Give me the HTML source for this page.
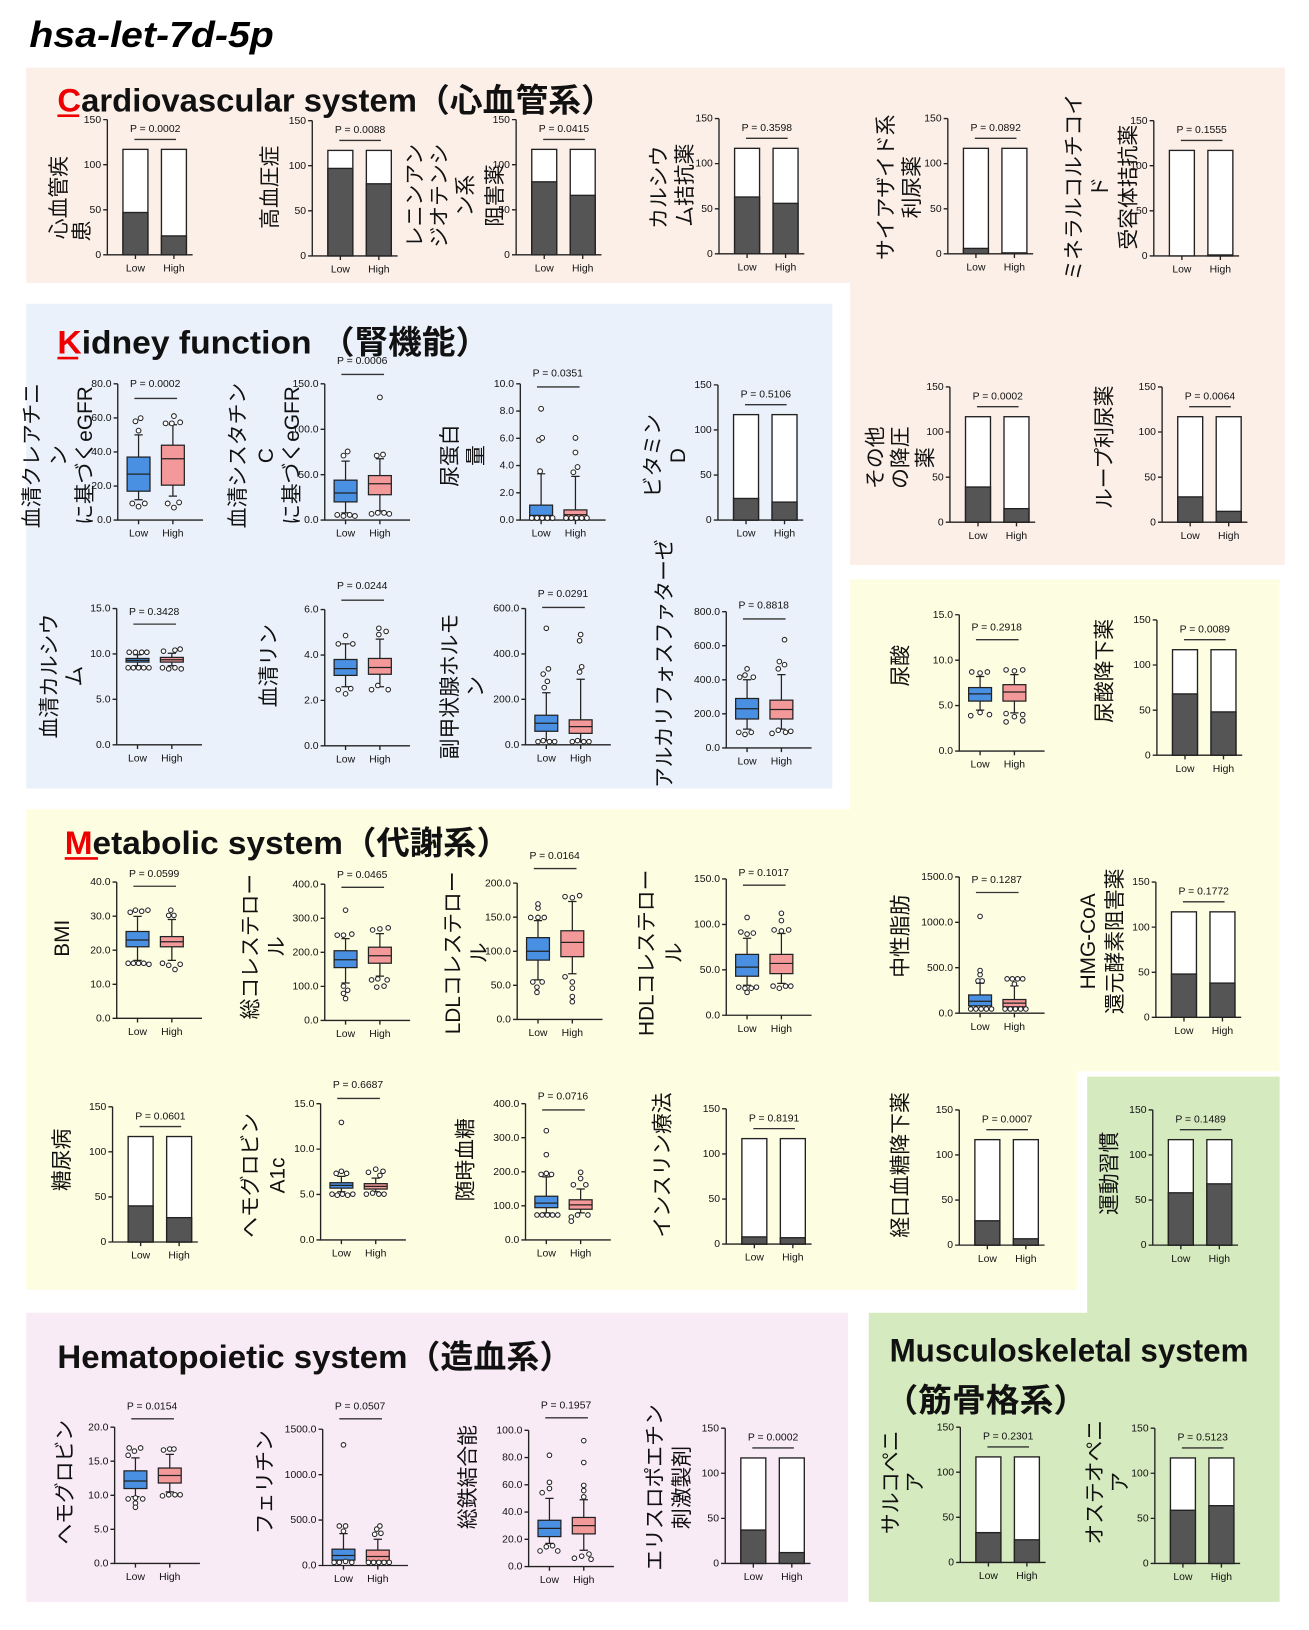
<!DOCTYPE html>
<html><head><meta charset="utf-8"><style>
html,body{margin:0;padding:0;background:#fff;}
svg{display:block;}
.ax{stroke:#222;stroke-width:1.3;fill:none}
.t{font-family:"Liberation Sans",Arial,sans-serif;font-size:10px;fill:#111}
.e{text-anchor:end}
.m{text-anchor:middle}
.d{fill:#555;stroke:#222;stroke-width:1.3}
.pl{stroke:#333;stroke-width:1.3}
.bl{fill:#4a90e2;stroke:#222;stroke-width:1.2}
.pk{fill:#f4999a;stroke:#222;stroke-width:1.2}
.w{stroke:#222;stroke-width:1.2;fill:none}
.o circle{fill:#fff;stroke:#222;stroke-width:1}
.j{font-family:"Liberation Sans","Noto Sans CJK JP",sans-serif;font-size:20px;fill:#111;text-anchor:middle;dominant-baseline:central}
.h{font-family:"Liberation Sans","Noto Sans CJK JP",sans-serif;font-weight:bold;font-size:31px;fill:#111}
.r{fill:#e00}
</style></head><body>
<svg width="1309" height="1630" viewBox="0 0 1258 1567" xmlns="http://www.w3.org/2000/svg">
<defs>
<g id="bf">
<path class="ax" d="M0,-130V0H82M-4,0H0M-4,-43.3H0M-4,-86.7H0M-4,-130H0M27,0v4M64,0v4"/>
<text class="t e" x="-6" y="3">0</text><text class="t e" x="-6" y="-40.3">50</text><text class="t e" x="-6" y="-83.7">100</text><text class="t e" x="-6" y="-127">150</text>
<rect x="15" y="-101.4" width="24" height="101.4" fill="#fff" stroke="#222" stroke-width="1.3"/>
<rect x="52" y="-101.4" width="24" height="101.4" fill="#fff" stroke="#222" stroke-width="1.3"/>
<text class="t m" x="27" y="16">Low</text><text class="t m" x="64" y="16">High</text>
<path class="pl" d="M26,-111H66"/>
</g>
<path id="bx" class="ax" d="M0,-131V0H82M20,0v4M53,0v4"/>
<g id="lh"><text class="t m" x="20" y="16">Low</text><text class="t m" x="53" y="16">High</text></g>
</defs>

<polygon points="25,65 1235,65 1235,543 817,543 817,272 25,272" fill="#fcefe8"/>
<rect x="25" y="292" width="775" height="466" fill="#ebf1fa"/>
<polygon points="25,778 817,778 817,557 1230,557 1230,1030 1035,1030 1035,1240 25,1240" fill="#fdfde2"/>
<polygon points="1045,1035 1230,1035 1230,1540 835,1540 835,1262 1045,1262" fill="#d5eabe"/>
<rect x="25" y="1262" width="790" height="278" fill="#f9ebf5"/>

<text x="28" y="45" font-family="Liberation Sans,sans-serif" font-weight="bold" font-style="italic" font-size="35" textLength="235" lengthAdjust="spacingAndGlyphs">hsa-let-7d-5p</text>
<text class="h" x="55" y="107" textLength="535" lengthAdjust="spacingAndGlyphs"><tspan class="r">C</tspan>ardiovascular system（心血管系）</text>
<rect x="55" y="110" width="21" height="2.5" fill="#e00"/>
<text class="h" x="55" y="340" textLength="415" lengthAdjust="spacingAndGlyphs"><tspan class="r">K</tspan>idney function （腎機能）</text>
<rect x="55" y="343" width="20" height="2.5" fill="#e00"/>
<text class="h" x="62" y="821" textLength="428" lengthAdjust="spacingAndGlyphs"><tspan class="r">M</tspan>etabolic system（代謝系）</text>
<rect x="62" y="824" width="32" height="2.5" fill="#e00"/>
<text class="h" x="55" y="1315" textLength="495" lengthAdjust="spacingAndGlyphs">Hematopoietic system（造血系）</text>
<text class="h" x="855" y="1309" textLength="345" lengthAdjust="spacingAndGlyphs">Musculoskeletal system</text>
<text class="h" x="850" y="1357" textLength="195" lengthAdjust="spacingAndGlyphs">（筋骨格系）</text>

<g class="j">
<text transform="translate(57,190) rotate(-90)">心血管疾</text>
<text transform="translate(79,222) rotate(-90)">患</text>
<text transform="translate(260,180) rotate(-90)">高血圧症</text>
<text transform="translate(399,188) rotate(-90)">レニンアン</text>
<text transform="translate(423,188) rotate(-90)">ジオテンシ</text>
<text transform="translate(448,188) rotate(-90)">ン系</text>
<text transform="translate(476,188) rotate(-90)">阻害薬</text>
<text transform="translate(634,180) rotate(-90)">カルシウ</text>
<text transform="translate(659,178) rotate(-90)">ム拮抗薬</text>
<text transform="translate(852,180) rotate(-90)">サイアザイド系</text>
<text transform="translate(877,180) rotate(-90)">利尿薬</text>
<text transform="translate(1033,180) rotate(-90)">ミネラルコルチコイ</text>
<text transform="translate(1058,180) rotate(-90)">ド</text>
<text transform="translate(1085,180) rotate(-90)">受容体拮抗薬</text>
<text transform="translate(842,440) rotate(-90)">その他</text>
<text transform="translate(866,440) rotate(-90)">の降圧</text>
<text transform="translate(890,440) rotate(-90)">薬</text>
<text transform="translate(1062,430) rotate(-90)">ループ利尿薬</text>
<text transform="translate(31,438) rotate(-90)">血清クレアチニ</text>
<text transform="translate(57,438) rotate(-90)">ン</text>
<text transform="translate(82,438) rotate(-90)">に基づくeGFR</text>
<text transform="translate(229,438) rotate(-90)">血清シスタチン</text>
<text transform="translate(256,438) rotate(-90)">C</text>
<text transform="translate(281,438) rotate(-90)">に基づくeGFR</text>
<text transform="translate(433,438) rotate(-90)">尿蛋白</text>
<text transform="translate(458,438) rotate(-90)">量</text>
<text transform="translate(628,438) rotate(-90)">ビタミン</text>
<text transform="translate(652,438) rotate(-90)">D</text>
<text transform="translate(48,650) rotate(-90)">血清カルシウ</text>
<text transform="translate(72,650) rotate(-90)">ム</text>
<text transform="translate(259,640) rotate(-90)">血清リン</text>
<text transform="translate(433,660) rotate(-90)">副甲状腺ホルモ</text>
<text transform="translate(458,660) rotate(-90)">ン</text>
<text transform="translate(639,638) rotate(-90)">アルカリフォスファターゼ</text>
<text transform="translate(866,640) rotate(-90)">尿酸</text>
<text transform="translate(1062,645) rotate(-90)">尿酸降下薬</text>
<text transform="translate(60,902) rotate(-90)">BMI</text>
<text transform="translate(241,910) rotate(-90)">総コレステロー</text>
<text transform="translate(266,910) rotate(-90)">ル</text>
<text transform="translate(436,916) rotate(-90)">LDLコレステロー</text>
<text transform="translate(461,916) rotate(-90)">ル</text>
<text transform="translate(622,916) rotate(-90)">HDLコレステロー</text>
<text transform="translate(648,916) rotate(-90)">ル</text>
<text transform="translate(866,900) rotate(-90)">中性脂肪</text>
<text transform="translate(1046,905) rotate(-90)">HMG-CoA</text>
<text transform="translate(1072,905) rotate(-90)">還元酵素阻害薬</text>
<text transform="translate(60,1115) rotate(-90)">糖尿病</text>
<text transform="translate(241,1130) rotate(-90)">ヘモグロビン</text>
<text transform="translate(267,1130) rotate(-90)">A1c</text>
<text transform="translate(448,1115) rotate(-90)">随時血糖</text>
<text transform="translate(637,1120) rotate(-90)">インスリン療法</text>
<text transform="translate(866,1120) rotate(-90)">経口血糖降下薬</text>
<text transform="translate(1067,1128) rotate(-90)">運動習慣</text>
<text transform="translate(63,1425) rotate(-90)">ヘモグロビン</text>
<text transform="translate(255,1425) rotate(-90)">フェリチン</text>
<text transform="translate(450,1420) rotate(-90)">総鉄結合能</text>
<text transform="translate(630,1430) rotate(-90)">エリスロポエチン</text>
<text transform="translate(656,1430) rotate(-90)">刺激製剤</text>
<text transform="translate(857,1425) rotate(-90)">サルコペニ</text>
<text transform="translate(880,1425) rotate(-90)">ア</text>
<text transform="translate(1053,1425) rotate(-90)">オステオペニ</text>
<text transform="translate(1077,1425) rotate(-90)">ア</text>
</g>

<g transform="translate(103,245)"><use href="#bf"/><rect class="d" x="15" y="-40.7" width="24" height="40.7"/><rect class="d" x="52" y="-18.2" width="24" height="18.2"/><text class="t m" x="46" y="-118">P = 0.0002</text></g>
<g transform="translate(300,246)"><use href="#bf"/><rect class="d" x="15" y="-84.1" width="24" height="84.1"/><rect class="d" x="52" y="-69.3" width="24" height="69.3"/><text class="t m" x="46" y="-118">P = 0.0088</text></g>
<g transform="translate(496,245)"><use href="#bf"/><rect class="d" x="15" y="-70.2" width="24" height="70.2"/><rect class="d" x="52" y="-57.2" width="24" height="57.2"/><text class="t m" x="46" y="-118">P = 0.0415</text></g>
<g transform="translate(691,244)"><use href="#bf"/><rect class="d" x="15" y="-54.6" width="24" height="54.6"/><rect class="d" x="52" y="-48.5" width="24" height="48.5"/><text class="t m" x="46" y="-118">P = 0.3598</text></g>
<g transform="translate(911,244)"><use href="#bf"/><rect class="d" x="15" y="-5.2" width="24" height="5.2"/><rect class="d" x="52" y="-0.9" width="24" height="0.9"/><text class="t m" x="46" y="-118">P = 0.0892</text></g>
<g transform="translate(1109,246)"><use href="#bf"/><rect class="d" x="52" y="-0.9" width="24" height="0.9"/><text class="t m" x="46" y="-118">P = 0.1555</text></g>
<g transform="translate(913,502)"><use href="#bf"/><rect class="d" x="15" y="-33.8" width="24" height="33.8"/><rect class="d" x="52" y="-13" width="24" height="13"/><text class="t m" x="46" y="-118">P = 0.0002</text></g>
<g transform="translate(1117,502)"><use href="#bf"/><rect class="d" x="15" y="-24.3" width="24" height="24.3"/><rect class="d" x="52" y="-10.4" width="24" height="10.4"/><text class="t m" x="46" y="-118">P = 0.0064</text></g>
<g transform="translate(690,500)"><use href="#bf"/><rect class="d" x="15" y="-20.8" width="24" height="20.8"/><rect class="d" x="52" y="-17.3" width="24" height="17.3"/><text class="t m" x="46" y="-118">P = 0.5106</text></g>
<g transform="translate(1112,726)"><use href="#bf"/><rect class="d" x="15" y="-58.9" width="24" height="58.9"/><rect class="d" x="52" y="-41.6" width="24" height="41.6"/><text class="t m" x="46" y="-118">P = 0.0089</text></g>
<g transform="translate(1111,978)"><use href="#bf"/><rect class="d" x="15" y="-41.6" width="24" height="41.6"/><rect class="d" x="52" y="-32.9" width="24" height="32.9"/><text class="t m" x="46" y="-118">P = 0.1772</text></g>
<g transform="translate(108,1194)"><use href="#bf"/><rect class="d" x="15" y="-34.7" width="24" height="34.7"/><rect class="d" x="52" y="-23.4" width="24" height="23.4"/><text class="t m" x="46" y="-118">P = 0.0601</text></g>
<g transform="translate(698,1196)"><use href="#bf"/><rect class="d" x="15" y="-6.9" width="24" height="6.9"/><rect class="d" x="52" y="-6.1" width="24" height="6.1"/><text class="t m" x="46" y="-118">P = 0.8191</text></g>
<g transform="translate(922,1197)"><use href="#bf"/><rect class="d" x="15" y="-23.4" width="24" height="23.4"/><rect class="d" x="52" y="-6.1" width="24" height="6.1"/><text class="t m" x="46" y="-118">P = 0.0007</text></g>
<g transform="translate(1108,1197)"><use href="#bf"/><rect class="d" x="15" y="-50.3" width="24" height="50.3"/><rect class="d" x="52" y="-58.9" width="24" height="58.9"/><text class="t m" x="46" y="-118">P = 0.1489</text></g>
<g transform="translate(697,1503)"><use href="#bf"/><rect class="d" x="15" y="-32.1" width="24" height="32.1"/><rect class="d" x="52" y="-10.4" width="24" height="10.4"/><text class="t m" x="46" y="-118">P = 0.0002</text></g>
<g transform="translate(923,1502)"><use href="#bf"/><rect class="d" x="15" y="-28.6" width="24" height="28.6"/><rect class="d" x="52" y="-21.7" width="24" height="21.7"/><text class="t m" x="46" y="-118">P = 0.2301</text></g>
<g transform="translate(1110,1503)"><use href="#bf"/><rect class="d" x="15" y="-51.1" width="24" height="51.1"/><rect class="d" x="52" y="-55.5" width="24" height="55.5"/><text class="t m" x="46" y="-118">P = 0.5123</text></g>

<g transform="translate(113,500)"><use href="#bx"/><use href="#lh"/>
<path class="ax" d="M-4,0H0M-4,-32.75H0M-4,-65.5H0M-4,-98.25H0M-4,-131H0"/>
<text class="t e" x="-6" y="3">0.0</text><text class="t e" x="-6" y="-29.7">20.0</text><text class="t e" x="-6" y="-62.5">40.0</text><text class="t e" x="-6" y="-95.2">60.0</text><text class="t e" x="-6" y="-128">80.0</text>
<path class="w" d="M20,-19.6V-27.8M20,-60.6V-81.9M16,-19.6h8M16,-81.9h8"/><rect class="bl" x="9" y="-60.6" width="22" height="32.8"/><path class="w" d="M9,-44.2h22"/>
<path class="w" d="M53,-23V-33.6M53,-72V-91.7M49,-23h8M49,-91.7h8"/><rect class="pk" x="42" y="-72" width="22" height="38.4"/><path class="w" d="M42,-59h22"/>
<g class="o"><circle cx="14" cy="-16" r="2.3"/><circle cx="20" cy="-13" r="2.3"/><circle cx="26" cy="-16" r="2.3"/><circle cx="20" cy="-86" r="2.3"/><circle cx="17" cy="-95" r="2.3"/><circle cx="22" cy="-98" r="2.3"/><circle cx="48" cy="-16" r="2.3"/><circle cx="54" cy="-12" r="2.3"/><circle cx="59" cy="-17" r="2.3"/><circle cx="46" cy="-93" r="2.3"/><circle cx="52" cy="-93" r="2.3"/><circle cx="60" cy="-94" r="2.3"/><circle cx="54" cy="-100" r="2.3"/></g>
<text class="t m" x="36" y="-128">P = 0.0002</text><path class="pl" d="M16,-117H57"/></g>
<g transform="translate(312,500)"><use href="#bx"/><use href="#lh"/>
<path class="ax" d="M-4,0H0M-4,-43.7H0M-4,-87.3H0M-4,-131H0"/>
<text class="t e" x="-6" y="3">0.0</text><text class="t e" x="-6" y="-40.7">50.0</text><text class="t e" x="-6" y="-84.3">100.0</text><text class="t e" x="-6" y="-128">150.0</text>
<path class="w" d="M20,-7V-17.5M20,-38.4V-56.7M16,-7h8M16,-56.7h8"/><rect class="bl" x="9" y="-38.4" width="22" height="20.9"/><path class="w" d="M9,-26h22"/>
<path class="w" d="M53,-8.7V-24.4M53,-42.8V-59M49,-8.7h8M49,-59h8"/><rect class="pk" x="42" y="-42.8" width="22" height="18.4"/><path class="w" d="M42,-35h22"/>
<g class="o"><circle cx="12" cy="-5" r="2.3"/><circle cx="18" cy="-4" r="2.3"/><circle cx="24" cy="-5" r="2.3"/><circle cx="29" cy="-4" r="2.3"/><circle cx="18" cy="-62" r="2.3"/><circle cx="22" cy="-66" r="2.3"/><circle cx="45" cy="-6" r="2.3"/><circle cx="51" cy="-7" r="2.3"/><circle cx="57" cy="-7" r="2.3"/><circle cx="62" cy="-6" r="2.3"/><circle cx="50" cy="-62" r="2.3"/><circle cx="56" cy="-63" r="2.3"/><circle cx="53" cy="-118" r="2.3"/></g>
<text class="t m" x="36" y="-150">P = 0.0006</text><path class="pl" d="M16,-140H57"/></g>
<g transform="translate(500,500)"><use href="#bx"/><use href="#lh"/>
<path class="ax" d="M-4,0H0M-4,-26.2H0M-4,-52.4H0M-4,-78.6H0M-4,-104.8H0M-4,-131H0"/>
<text class="t e" x="-6" y="3">0.0</text><text class="t e" x="-6" y="-23.2">2.0</text><text class="t e" x="-6" y="-49.4">4.0</text><text class="t e" x="-6" y="-75.6">6.0</text><text class="t e" x="-6" y="-101.8">8.0</text><text class="t e" x="-6" y="-128">10.0</text>
<path class="w" d="M20,-14.4V-44.5M16,-44.5h8"/><rect class="bl" x="9" y="-14.4" width="22" height="13.1"/><path class="w" d="M9,-4.6h22"/>
<path class="w" d="M53,-9.8V-42M49,-42h8"/><rect class="pk" x="42" y="-9.8" width="22" height="8.5"/><path class="w" d="M42,-5.2h22"/>
<g class="o"><circle cx="11" cy="-2" r="2.3"/><circle cx="16" cy="-2" r="2.3"/><circle cx="21" cy="-2" r="2.3"/><circle cx="26" cy="-2" r="2.3"/><circle cx="31" cy="-2" r="2.3"/><circle cx="19" cy="-47" r="2.3"/><circle cx="18" cy="-77" r="2.3"/><circle cx="21" cy="-79" r="2.3"/><circle cx="20" cy="-107" r="2.3"/><circle cx="44" cy="-2" r="2.3"/><circle cx="49" cy="-2" r="2.3"/><circle cx="54" cy="-2" r="2.3"/><circle cx="59" cy="-2" r="2.3"/><circle cx="64" cy="-2" r="2.3"/><circle cx="51" cy="-46" r="2.3"/><circle cx="55" cy="-51" r="2.3"/><circle cx="53" cy="-65" r="2.3"/><circle cx="53" cy="-79" r="2.3"/></g>
<text class="t m" x="36" y="-138">P = 0.0351</text><path class="pl" d="M16,-128H57"/></g>
<g transform="translate(112,716)"><use href="#bx"/><use href="#lh"/>
<path class="ax" d="M-4,0H0M-4,-43.7H0M-4,-87.3H0M-4,-131H0"/>
<text class="t e" x="-6" y="3">0.0</text><text class="t e" x="-6" y="-40.7">5.0</text><text class="t e" x="-6" y="-84.3">10.0</text><text class="t e" x="-6" y="-128">15.0</text>
<path class="w" d="M20,-76V-79.5M20,-83V-86.5M16,-76h8M16,-86.5h8"/><rect class="bl" x="9" y="-83" width="22" height="3.5"/><path class="w" d="M9,-81.2h22"/>
<path class="w" d="M53,-76V-79.5M53,-84V-88M49,-76h8M49,-88h8"/><rect class="pk" x="42" y="-84" width="22" height="4.5"/><path class="w" d="M42,-81.7h22"/>
<g class="o"><circle cx="11" cy="-74" r="2.2"/><circle cx="16" cy="-74" r="2.2"/><circle cx="21" cy="-74" r="2.2"/><circle cx="26" cy="-74" r="2.2"/><circle cx="31" cy="-74" r="2.2"/><circle cx="12" cy="-89" r="2.2"/><circle cx="18" cy="-89" r="2.2"/><circle cx="24" cy="-89" r="2.2"/><circle cx="29" cy="-89" r="2.2"/><circle cx="44" cy="-74" r="2.2"/><circle cx="50" cy="-73" r="2.2"/><circle cx="56" cy="-74" r="2.2"/><circle cx="62" cy="-73" r="2.2"/><circle cx="45" cy="-90" r="2.2"/><circle cx="56" cy="-91" r="2.2"/><circle cx="61" cy="-92" r="2.2"/></g>
<text class="t m" x="36" y="-125">P = 0.3428</text><path class="pl" d="M16,-116H57"/></g>
<g transform="translate(312,717)"><use href="#bx"/><use href="#lh"/>
<path class="ax" d="M-4,0H0M-4,-43.7H0M-4,-87.3H0M-4,-131H0"/>
<text class="t e" x="-6" y="3">0.0</text><text class="t e" x="-6" y="-40.7">2.0</text><text class="t e" x="-6" y="-84.3">4.0</text><text class="t e" x="-6" y="-128">6.0</text>
<path class="w" d="M20,-56.8V-67.7M20,-83V-98M16,-56.8h8M16,-98h8"/><rect class="bl" x="9" y="-83" width="22" height="15.3"/><path class="w" d="M9,-74.2h22"/>
<path class="w" d="M53,-56.8V-68.8M53,-84V-102.6M49,-56.8h8M49,-102.6h8"/><rect class="pk" x="42" y="-84" width="22" height="15.2"/><path class="w" d="M42,-75.3h22"/>
<g class="o"><circle cx="13" cy="-54" r="2.2"/><circle cx="20" cy="-50" r="2.2"/><circle cx="25" cy="-55" r="2.2"/><circle cx="13" cy="-98" r="2.2"/><circle cx="20" cy="-106" r="2.2"/><circle cx="27" cy="-98" r="2.2"/><circle cx="45" cy="-54" r="2.2"/><circle cx="51" cy="-58" r="2.2"/><circle cx="61" cy="-54" r="2.2"/><circle cx="52" cy="-107" r="2.2"/><circle cx="59" cy="-110" r="2.2"/><circle cx="52" cy="-113" r="2.2"/></g>
<text class="t m" x="36" y="-151">P = 0.0244</text><path class="pl" d="M16,-140H57"/></g>
<g transform="translate(505,716)"><use href="#bx"/><use href="#lh"/>
<path class="ax" d="M-4,0H0M-4,-43.7H0M-4,-87.3H0M-4,-131H0"/>
<text class="t e" x="-6" y="3">0.0</text><text class="t e" x="-6" y="-40.7">200.0</text><text class="t e" x="-6" y="-84.3">400.0</text><text class="t e" x="-6" y="-128">600.0</text>
<path class="w" d="M20,-3.3V-13M20,-28.4V-50M16,-50h8"/><rect class="bl" x="9" y="-28.4" width="22" height="15.4"/><path class="w" d="M9,-20.7h22"/>
<path class="w" d="M53,-2V-11M53,-24V-63M49,-63h8"/><rect class="pk" x="42" y="-24" width="22" height="13"/><path class="w" d="M42,-17.5h22"/>
<g class="o"><circle cx="12" cy="-3" r="2.2"/><circle cx="17" cy="-4" r="2.2"/><circle cx="23" cy="-3" r="2.2"/><circle cx="28" cy="-3" r="2.2"/><circle cx="18" cy="-55" r="2.2"/><circle cx="21" cy="-61" r="2.2"/><circle cx="17" cy="-68" r="2.2"/><circle cx="22" cy="-73" r="2.2"/><circle cx="20" cy="-112" r="2.2"/><circle cx="45" cy="-3" r="2.2"/><circle cx="50" cy="-4" r="2.2"/><circle cx="56" cy="-3" r="2.2"/><circle cx="61" cy="-3" r="2.2"/><circle cx="52" cy="-70" r="2.2"/><circle cx="54" cy="-75" r="2.2"/><circle cx="52" cy="-100" r="2.2"/><circle cx="53" cy="-106" r="2.2"/></g>
<text class="t m" x="36" y="-142">P = 0.0291</text><path class="pl" d="M16,-132H57"/></g>
<g transform="translate(698,719)"><use href="#bx"/><use href="#lh"/>
<path class="ax" d="M-4,0H0M-4,-32.75H0M-4,-65.5H0M-4,-98.25H0M-4,-131H0"/>
<text class="t e" x="-6" y="3">0.0</text><text class="t e" x="-6" y="-29.7">200.0</text><text class="t e" x="-6" y="-62.5">400.0</text><text class="t e" x="-6" y="-95.2">600.0</text><text class="t e" x="-6" y="-128">800.0</text>
<path class="w" d="M20,-18V-27.8M20,-47.5V-65.5M16,-18h8M16,-65.5h8"/><rect class="bl" x="9" y="-47.5" width="22" height="19.7"/><path class="w" d="M9,-37.7h22"/>
<path class="w" d="M53,-18V-27.8M53,-45.9V-70.4M49,-18h8M49,-70.4h8"/><rect class="pk" x="42" y="-45.9" width="22" height="18.1"/><path class="w" d="M42,-36.9h22"/>
<g class="o"><circle cx="12" cy="-15" r="2.2"/><circle cx="18" cy="-13" r="2.2"/><circle cx="24" cy="-15" r="2.2"/><circle cx="13" cy="-68" r="2.2"/><circle cx="18" cy="-70" r="2.2"/><circle cx="26" cy="-68" r="2.2"/><circle cx="20" cy="-76" r="2.2"/><circle cx="44" cy="-14" r="2.2"/><circle cx="50" cy="-17" r="2.2"/><circle cx="57" cy="-15" r="2.2"/><circle cx="62" cy="-16" r="2.2"/><circle cx="50" cy="-76" r="2.2"/><circle cx="56" cy="-80" r="2.2"/><circle cx="51" cy="-83" r="2.2"/><circle cx="56" cy="-104" r="2.2"/></g>
<text class="t m" x="36" y="-134">P = 0.8818</text><path class="pl" d="M16,-124H57"/></g>
<g transform="translate(922,722)"><use href="#bx"/><use href="#lh"/>
<path class="ax" d="M-4,0H0M-4,-43.7H0M-4,-87.3H0M-4,-131H0"/>
<text class="t e" x="-6" y="3">0.0</text><text class="t e" x="-6" y="-40.7">5.0</text><text class="t e" x="-6" y="-84.3">10.0</text><text class="t e" x="-6" y="-128">15.0</text>
<path class="w" d="M20,-39.3V-48M20,-61V-71.6M16,-39.3h8M16,-71.6h8"/><rect class="bl" x="9" y="-61" width="22" height="13"/><path class="w" d="M9,-55h22"/>
<path class="w" d="M53,-36.7V-48M53,-63.8V-73.4M49,-36.7h8M49,-73.4h8"/><rect class="pk" x="42" y="-63.8" width="22" height="15.8"/><path class="w" d="M42,-56.8h22"/>
<g class="o"><circle cx="11" cy="-34" r="2.2"/><circle cx="20" cy="-37" r="2.2"/><circle cx="29" cy="-35" r="2.2"/><circle cx="12" cy="-76" r="2.2"/><circle cx="20" cy="-75" r="2.2"/><circle cx="27" cy="-76" r="2.2"/><circle cx="45" cy="-36" r="2.2"/><circle cx="53" cy="-33" r="2.2"/><circle cx="61" cy="-35" r="2.2"/><circle cx="45" cy="-28" r="2.2"/><circle cx="61" cy="-29" r="2.2"/><circle cx="45" cy="-78" r="2.2"/><circle cx="53" cy="-77" r="2.2"/><circle cx="61" cy="-78" r="2.2"/></g>
<text class="t m" x="36" y="-116">P = 0.2918</text><path class="pl" d="M16,-107H57"/></g>
<g transform="translate(112,979)"><use href="#bx"/><use href="#lh"/>
<path class="ax" d="M-4,0H0M-4,-32.75H0M-4,-65.5H0M-4,-98.25H0M-4,-131H0"/>
<text class="t e" x="-6" y="3">0.0</text><text class="t e" x="-6" y="-29.7">10.0</text><text class="t e" x="-6" y="-62.5">20.0</text><text class="t e" x="-6" y="-95.2">30.0</text><text class="t e" x="-6" y="-128">40.0</text>
<path class="w" d="M20,-55.7V-68.8M20,-83.5V-98M16,-55.7h8M16,-98h8"/><rect class="bl" x="9" y="-83.5" width="22" height="14.7"/><path class="w" d="M9,-75.3h22"/>
<path class="w" d="M53,-55.7V-68.8M53,-78.6V-95M49,-55.7h8M49,-95h8"/><rect class="pk" x="42" y="-78.6" width="22" height="9.8"/><path class="w" d="M42,-73.7h22"/>
<g class="o"><circle cx="11" cy="-53" r="2.2"/><circle cx="16" cy="-53" r="2.2"/><circle cx="21" cy="-53" r="2.2"/><circle cx="26" cy="-53" r="2.2"/><circle cx="31" cy="-52" r="2.2"/><circle cx="13" cy="-102" r="2.2"/><circle cx="18" cy="-104" r="2.2"/><circle cx="24" cy="-103" r="2.2"/><circle cx="30" cy="-104" r="2.2"/><circle cx="44" cy="-53" r="2.2"/><circle cx="50" cy="-51" r="2.2"/><circle cx="56" cy="-47" r="2.2"/><circle cx="61" cy="-52" r="2.2"/><circle cx="50" cy="-99" r="2.2"/><circle cx="55" cy="-99" r="2.2"/><circle cx="52" cy="-104" r="2.2"/></g>
<text class="t m" x="36" y="-136">P = 0.0599</text><path class="pl" d="M16,-127H57"/></g>
<g transform="translate(312,981)"><use href="#bx"/><use href="#lh"/>
<path class="ax" d="M-4,0H0M-4,-32.75H0M-4,-65.5H0M-4,-98.25H0M-4,-131H0"/>
<text class="t e" x="-6" y="3">0.0</text><text class="t e" x="-6" y="-29.7">100.0</text><text class="t e" x="-6" y="-62.5">200.0</text><text class="t e" x="-6" y="-95.2">300.0</text><text class="t e" x="-6" y="-128">400.0</text>
<path class="w" d="M20,-36V-50.8M20,-67V-78.6M16,-36h8M16,-78.6h8"/><rect class="bl" x="9" y="-67" width="22" height="16.2"/><path class="w" d="M9,-58.3h22"/>
<path class="w" d="M53,-42.6V-55M53,-70.4V-83.5M49,-42.6h8M49,-83.5h8"/><rect class="pk" x="42" y="-70.4" width="22" height="15.4"/><path class="w" d="M42,-62.2h22"/>
<g class="o"><circle cx="18" cy="-33" r="2.2"/><circle cx="22" cy="-29" r="2.2"/><circle cx="18" cy="-26" r="2.2"/><circle cx="20" cy="-21" r="2.2"/><circle cx="12" cy="-82" r="2.2"/><circle cx="18" cy="-82" r="2.2"/><circle cx="26" cy="-83" r="2.2"/><circle cx="20" cy="-106" r="2.2"/><circle cx="45" cy="-39" r="2.2"/><circle cx="51" cy="-40" r="2.2"/><circle cx="60" cy="-39" r="2.2"/><circle cx="50" cy="-32" r="2.2"/><circle cx="57" cy="-33" r="2.2"/><circle cx="46" cy="-87" r="2.2"/><circle cx="53" cy="-88" r="2.2"/><circle cx="61" cy="-89" r="2.2"/></g>
<text class="t m" x="36" y="-137">P = 0.0465</text><path class="pl" d="M16,-128H57"/></g>
<g transform="translate(497,980)"><use href="#bx"/><use href="#lh"/>
<path class="ax" d="M-4,0H0M-4,-32.75H0M-4,-65.5H0M-4,-98.25H0M-4,-131H0"/>
<text class="t e" x="-6" y="3">0.0</text><text class="t e" x="-6" y="-29.7">50.0</text><text class="t e" x="-6" y="-62.5">100.0</text><text class="t e" x="-6" y="-95.2">150.0</text><text class="t e" x="-6" y="-128">200.0</text>
<path class="w" d="M20,-38V-57M20,-78.6V-95M16,-38h8M16,-95h8"/><rect class="bl" x="9" y="-78.6" width="22" height="21.6"/><path class="w" d="M9,-65.5h22"/>
<path class="w" d="M53,-43.9V-60.3M53,-85.2V-113.3M49,-43.9h8M49,-113.3h8"/><rect class="pk" x="42" y="-85.2" width="22" height="24.9"/><path class="w" d="M42,-74h22"/>
<g class="o"><circle cx="15" cy="-36" r="2.2"/><circle cx="24" cy="-36" r="2.2"/><circle cx="19" cy="-31" r="2.2"/><circle cx="19" cy="-26" r="2.2"/><circle cx="13" cy="-98" r="2.2"/><circle cx="20" cy="-98" r="2.2"/><circle cx="26" cy="-98" r="2.2"/><circle cx="20" cy="-107" r="2.2"/><circle cx="20" cy="-111" r="2.2"/><circle cx="46" cy="-41" r="2.2"/><circle cx="53" cy="-36" r="2.2"/><circle cx="53" cy="-30" r="2.2"/><circle cx="53" cy="-22" r="2.2"/><circle cx="53" cy="-17" r="2.2"/><circle cx="46" cy="-118" r="2.2"/><circle cx="53" cy="-117" r="2.2"/><circle cx="60" cy="-119" r="2.2"/></g>
<text class="t m" x="36" y="-154">P = 0.0164</text><path class="pl" d="M16,-145H57"/></g>
<g transform="translate(698,976)"><use href="#bx"/><use href="#lh"/>
<path class="ax" d="M-4,0H0M-4,-43.7H0M-4,-87.3H0M-4,-131H0"/>
<text class="t e" x="-6" y="3">0.0</text><text class="t e" x="-6" y="-40.7">50.0</text><text class="t e" x="-6" y="-84.3">100.0</text><text class="t e" x="-6" y="-128">150.0</text>
<path class="w" d="M20,-28.8V-37.5M20,-58.5V-74M16,-28.8h8M16,-74h8"/><rect class="bl" x="9" y="-58.5" width="22" height="21"/><path class="w" d="M9,-46.3h22"/>
<path class="w" d="M53,-30.6V-40M53,-58.5V-78.6M49,-30.6h8M49,-78.6h8"/><rect class="pk" x="42" y="-58.5" width="22" height="18.5"/><path class="w" d="M42,-49.8h22"/>
<g class="o"><circle cx="12" cy="-27" r="2.2"/><circle cx="18" cy="-26" r="2.2"/><circle cx="24" cy="-26" r="2.2"/><circle cx="29" cy="-27" r="2.2"/><circle cx="20" cy="-22" r="2.2"/><circle cx="14" cy="-80" r="2.2"/><circle cx="20" cy="-78" r="2.2"/><circle cx="26" cy="-79" r="2.2"/><circle cx="20" cy="-94" r="2.2"/><circle cx="45" cy="-28" r="2.2"/><circle cx="51" cy="-26" r="2.2"/><circle cx="57" cy="-28" r="2.2"/><circle cx="62" cy="-28" r="2.2"/><circle cx="46" cy="-82" r="2.2"/><circle cx="53" cy="-81" r="2.2"/><circle cx="60" cy="-82" r="2.2"/><circle cx="53" cy="-91" r="2.2"/><circle cx="53" cy="-98" r="2.2"/></g>
<text class="t m" x="36" y="-134">P = 0.1017</text><path class="pl" d="M16,-125H57"/></g>
<g transform="translate(922,974)"><use href="#bx"/><use href="#lh"/>
<path class="ax" d="M-4,0H0M-4,-43.7H0M-4,-87.3H0M-4,-131H0"/>
<text class="t e" x="-6" y="3">0.0</text><text class="t e" x="-6" y="-40.7">500.0</text><text class="t e" x="-6" y="-84.3">1000.0</text><text class="t e" x="-6" y="-128">1500.0</text>
<path class="w" d="M20,-17.5V-28.8M16,-28.8h8"/><rect class="bl" x="9" y="-17.5" width="22" height="10.5"/><path class="w" d="M9,-11.4h22"/>
<path class="w" d="M53,-13.1V-26.2M49,-26.2h8"/><rect class="pk" x="42" y="-13.1" width="22" height="7"/><path class="w" d="M42,-9.6h22"/>
<g class="o"><circle cx="11" cy="-4" r="2.2"/><circle cx="16" cy="-4" r="2.2"/><circle cx="21" cy="-4" r="2.2"/><circle cx="26" cy="-4" r="2.2"/><circle cx="31" cy="-4" r="2.2"/><circle cx="18" cy="-31" r="2.2"/><circle cx="22" cy="-31" r="2.2"/><circle cx="20" cy="-37" r="2.2"/><circle cx="20" cy="-41" r="2.2"/><circle cx="20" cy="-93" r="2.2"/><circle cx="44" cy="-4" r="2.2"/><circle cx="49" cy="-4" r="2.2"/><circle cx="54" cy="-4" r="2.2"/><circle cx="59" cy="-4" r="2.2"/><circle cx="64" cy="-4" r="2.2"/><circle cx="46" cy="-33" r="2.2"/><circle cx="51" cy="-33" r="2.2"/><circle cx="56" cy="-33" r="2.2"/><circle cx="61" cy="-33" r="2.2"/><circle cx="53" cy="-28" r="2.2"/></g>
<text class="t m" x="36" y="-125">P = 0.1287</text><path class="pl" d="M16,-116H57"/></g>
<g transform="translate(308,1192)"><use href="#bx"/><use href="#lh"/>
<path class="ax" d="M-4,0H0M-4,-43.7H0M-4,-87.3H0M-4,-131H0"/>
<text class="t e" x="-6" y="3">0.0</text><text class="t e" x="-6" y="-40.7">5.0</text><text class="t e" x="-6" y="-84.3">10.0</text><text class="t e" x="-6" y="-128">15.0</text>
<path class="w" d="M20,-46.3V-49.8M20,-55V-61.1M16,-46.3h8M16,-61.1h8"/><rect class="bl" x="9" y="-55" width="22" height="5.2"/><path class="w" d="M9,-52.4h22"/>
<path class="w" d="M53,-46.3V-48.9M53,-54.1V-59.4M49,-46.3h8M49,-59.4h8"/><rect class="pk" x="42" y="-54.1" width="22" height="5.2"/><path class="w" d="M42,-51.5h22"/>
<g class="o"><circle cx="11" cy="-44" r="2.2"/><circle cx="16" cy="-43" r="2.2"/><circle cx="21" cy="-44" r="2.2"/><circle cx="26" cy="-43" r="2.2"/><circle cx="31" cy="-44" r="2.2"/><circle cx="15" cy="-64" r="2.2"/><circle cx="20" cy="-66" r="2.2"/><circle cx="25" cy="-64" r="2.2"/><circle cx="20" cy="-113" r="2.2"/><circle cx="44" cy="-44" r="2.2"/><circle cx="50" cy="-45" r="2.2"/><circle cx="56" cy="-44" r="2.2"/><circle cx="61" cy="-44" r="2.2"/><circle cx="46" cy="-65" r="2.2"/><circle cx="53" cy="-68" r="2.2"/><circle cx="60" cy="-66" r="2.2"/><circle cx="57" cy="-62" r="2.2"/></g>
<text class="t m" x="36" y="-146">P = 0.6687</text><path class="pl" d="M16,-136H57"/></g>
<g transform="translate(505,1192)"><use href="#bx"/><use href="#lh"/>
<path class="ax" d="M-4,0H0M-4,-32.75H0M-4,-65.5H0M-4,-98.25H0M-4,-131H0"/>
<text class="t e" x="-6" y="3">0.0</text><text class="t e" x="-6" y="-29.7">100.0</text><text class="t e" x="-6" y="-62.5">200.0</text><text class="t e" x="-6" y="-95.2">300.0</text><text class="t e" x="-6" y="-128">400.0</text>
<path class="w" d="M20,-26V-31M20,-42V-60.6M16,-26h8M16,-60.6h8"/><rect class="bl" x="9" y="-42" width="22" height="11"/><path class="w" d="M9,-35.4h22"/>
<path class="w" d="M53,-26V-29.5M53,-38.6V-49M49,-26h8M49,-49h8"/><rect class="pk" x="42" y="-38.6" width="22" height="9.1"/><path class="w" d="M42,-33.7h22"/>
<g class="o"><circle cx="11" cy="-24" r="2.2"/><circle cx="16" cy="-24" r="2.2"/><circle cx="21" cy="-24" r="2.2"/><circle cx="26" cy="-24" r="2.2"/><circle cx="31" cy="-24" r="2.2"/><circle cx="15" cy="-63" r="2.2"/><circle cx="20" cy="-64" r="2.2"/><circle cx="25" cy="-63" r="2.2"/><circle cx="20" cy="-82" r="2.2"/><circle cx="20" cy="-105" r="2.2"/><circle cx="44" cy="-22" r="2.2"/><circle cx="44" cy="-18" r="2.2"/><circle cx="50" cy="-24" r="2.2"/><circle cx="60" cy="-24" r="2.2"/><circle cx="46" cy="-53" r="2.2"/><circle cx="58" cy="-53" r="2.2"/><circle cx="53" cy="-59" r="2.2"/><circle cx="53" cy="-65" r="2.2"/></g>
<text class="t m" x="36" y="-135">P = 0.0716</text><path class="pl" d="M16,-125H57"/></g>
<g transform="translate(110,1503)"><use href="#bx"/><use href="#lh"/>
<path class="ax" d="M-4,0H0M-4,-32.75H0M-4,-65.5H0M-4,-98.25H0M-4,-131H0"/>
<text class="t e" x="-6" y="3">0.0</text><text class="t e" x="-6" y="-29.7">5.0</text><text class="t e" x="-6" y="-62.5">10.0</text><text class="t e" x="-6" y="-95.2">15.0</text><text class="t e" x="-6" y="-128">20.0</text>
<path class="w" d="M20,-64.2V-72M20,-89V-101.5M16,-64.2h8M16,-101.5h8"/><rect class="bl" x="9" y="-89" width="22" height="17"/><path class="w" d="M9,-79.3h22"/>
<path class="w" d="M53,-68.8V-77.3M53,-91.7V-104.8M49,-68.8h8M49,-104.8h8"/><rect class="pk" x="42" y="-91.7" width="22" height="14.4"/><path class="w" d="M42,-84.5h22"/>
<g class="o"><circle cx="13" cy="-62" r="2.2"/><circle cx="20" cy="-63" r="2.2"/><circle cx="27" cy="-62" r="2.2"/><circle cx="20" cy="-58" r="2.2"/><circle cx="20" cy="-54" r="2.2"/><circle cx="13" cy="-104" r="2.2"/><circle cx="19" cy="-108" r="2.2"/><circle cx="25" cy="-111" r="2.2"/><circle cx="14" cy="-111" r="2.2"/><circle cx="46" cy="-65" r="2.2"/><circle cx="52" cy="-66" r="2.2"/><circle cx="58" cy="-66" r="2.2"/><circle cx="63" cy="-66" r="2.2"/><circle cx="47" cy="-109" r="2.2"/><circle cx="53" cy="-110" r="2.2"/><circle cx="57" cy="-110" r="2.2"/></g>
<text class="t m" x="36" y="-148">P = 0.0154</text><path class="pl" d="M16,-139H57"/></g>
<g transform="translate(310,1505)"><use href="#bx"/><use href="#lh"/>
<path class="ax" d="M-4,0H0M-4,-43.7H0M-4,-87.3H0M-4,-131H0"/>
<text class="t e" x="-6" y="3">0.0</text><text class="t e" x="-6" y="-40.7">500.0</text><text class="t e" x="-6" y="-84.3">1000.0</text><text class="t e" x="-6" y="-128">1500.0</text>
<path class="w" d="M20,-15.7V-30.6M16,-30.6h8"/><rect class="bl" x="9" y="-15.7" width="22" height="10.5"/><path class="w" d="M9,-9.6h22"/>
<path class="w" d="M53,-14.8V-25.3M49,-25.3h8"/><rect class="pk" x="42" y="-14.8" width="22" height="10.4"/><path class="w" d="M42,-8.7h22"/>
<g class="o"><circle cx="11" cy="-3" r="2.2"/><circle cx="16" cy="-3" r="2.2"/><circle cx="22" cy="-4" r="2.2"/><circle cx="28" cy="-3" r="2.2"/><circle cx="16" cy="-38" r="2.2"/><circle cx="22" cy="-38" r="2.2"/><circle cx="20" cy="-33" r="2.2"/><circle cx="20" cy="-116" r="2.2"/><circle cx="44" cy="-3" r="2.2"/><circle cx="49" cy="-3" r="2.2"/><circle cx="54" cy="-3" r="2.2"/><circle cx="59" cy="-3" r="2.2"/><circle cx="64" cy="-3" r="2.2"/><circle cx="50" cy="-30" r="2.2"/><circle cx="56" cy="-31" r="2.2"/><circle cx="52" cy="-35" r="2.2"/><circle cx="55" cy="-38" r="2.2"/></g>
<text class="t m" x="36" y="-150">P = 0.0507</text><path class="pl" d="M16,-141H57"/></g>
<g transform="translate(508,1506)"><use href="#bx"/><use href="#lh"/>
<path class="ax" d="M-4,0H0M-4,-26.2H0M-4,-52.4H0M-4,-78.6H0M-4,-104.8H0M-4,-131H0"/>
<text class="t e" x="-6" y="3">0.0</text><text class="t e" x="-6" y="-23.2">20.0</text><text class="t e" x="-6" y="-49.4">40.0</text><text class="t e" x="-6" y="-75.6">60.0</text><text class="t e" x="-6" y="-101.8">80.0</text><text class="t e" x="-6" y="-128">100.0</text>
<path class="w" d="M20,-22.3V-28.8M20,-44.5V-65.5M16,-22.3h8M16,-65.5h8"/><rect class="bl" x="9" y="-44.5" width="22" height="15.7"/><path class="w" d="M9,-36.7h22"/>
<path class="w" d="M53,-15.7V-31.4M53,-47.2V-64.2M49,-15.7h8M49,-64.2h8"/><rect class="pk" x="42" y="-47.2" width="22" height="15.8"/><path class="w" d="M42,-39.3h22"/>
<g class="o"><circle cx="11" cy="-15" r="2.2"/><circle cx="17" cy="-19" r="2.2"/><circle cx="23" cy="-20" r="2.2"/><circle cx="28" cy="-15" r="2.2"/><circle cx="13" cy="-71" r="2.2"/><circle cx="20" cy="-75" r="2.2"/><circle cx="20" cy="-81" r="2.2"/><circle cx="20" cy="-107" r="2.2"/><circle cx="44" cy="-8" r="2.2"/><circle cx="51" cy="-10" r="2.2"/><circle cx="58" cy="-12" r="2.2"/><circle cx="60" cy="-7" r="2.2"/><circle cx="53" cy="-67" r="2.2"/><circle cx="53" cy="-73" r="2.2"/><circle cx="53" cy="-78" r="2.2"/><circle cx="53" cy="-100" r="2.2"/><circle cx="53" cy="-121" r="2.2"/></g>
<text class="t m" x="36" y="-152">P = 0.1957</text><path class="pl" d="M16,-143H57"/></g>
</svg>
</body></html>
